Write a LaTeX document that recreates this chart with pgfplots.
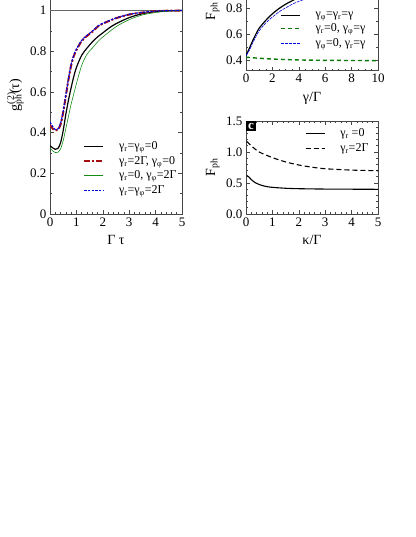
\documentclass[border=0pt]{standalone}
\usepackage{fontspec}
\setmainfont{Liberation Serif}
\usepackage{pgfplots}
\pgfplotsset{compat=1.18}
\definecolor{dred}{RGB}{165,15,15}
\definecolor{dgreen}{RGB}{20,140,20}
\definecolor{mgreen}{RGB}{10,120,10}
\definecolor{dblue}{RGB}{0,0,225}
\definecolor{axgray}{RGB}{70,70,70}
\pgfplotsset{panel/.style={scale only axis, anchor=south west,
  axis line style={axgray,line width=0.8pt}, tick style={axgray,line width=0.6pt},
  tick align=inside, major tick length=4pt, minor tick length=2pt,
  tick label style={font=\fontsize{13}{15}\selectfont},
  /pgf/number format/assume math mode=true,
  label style={font=\fontsize{14}{16}\selectfont},
  xlabel style={yshift=-2pt},
  legend cell align=left,
  legend style={draw=none, fill=none, font=\fontsize{12}{13}\selectfont, row sep=1pt,
    /tikz/every odd column/.append style={column sep=13pt}},
  legend image code/.code={\draw[##1] (0pt,0pt) -- (19pt,0pt);}}}

\begin{document}
\begin{tikzpicture}
% left: g2
\begin{axis}[panel, at={(50pt,323pt)}, width=132pt, height=238.1pt,
  xmin=0, xmax=5, ymin=0, ymax=1.17,
  xtick={0,1,2,3,4,5}, ytick={0,0.2,0.4,0.6,0.8,1},
  minor x tick num=4, minor y tick num=1,
  xlabel={Γ τ}, ylabel={g\rlap{\textsuperscript{(2)}}\textsubscript{ph}(τ)},
  legend style={at={(0.227,0.32)}, anchor=north west}]
\addplot[black!60, line width=0.5pt, forget plot] coordinates {(0,1) (5,1)};
\addplot[black, line width=1.2pt, smooth] coordinates {(0,0.336) (0.1,0.325) (0.2,0.318) (0.3,0.322) (0.4,0.35) (0.5,0.41) (0.6,0.49) (0.7,0.56) (0.8,0.62) (0.9,0.675) (1.0,0.72) (1.2,0.78) (1.4,0.815) (1.6,0.845) (1.8,0.87) (2.0,0.89) (2.25,0.915) (2.5,0.935) (3,0.965) (3.5,0.984) (4,0.994) (4.5,0.998) (5,1.0)};
\addlegendentry{γ\textsubscript{r}=γ\textsubscript{φ}=0}
\addplot[dred, line width=2pt, smooth, dash pattern=on 6pt off 2pt on 2pt off 2pt] coordinates {(0,0.437) (0.1,0.42) (0.2,0.41) (0.3,0.415) (0.4,0.44) (0.5,0.5) (0.6,0.58) (0.7,0.66) (0.8,0.73) (0.9,0.775) (1.0,0.805) (1.2,0.85) (1.4,0.875) (1.6,0.895) (1.8,0.92) (2.0,0.935) (2.5,0.962) (3,0.98) (3.5,0.99) (4,0.997) (4.5,0.999) (5,1.0)};
\addlegendentry{γ\textsubscript{r}=2Γ, γ\textsubscript{φ}=0}
\addplot[dgreen, line width=0.6pt, smooth] coordinates {(0,0.323) (0.1,0.31) (0.2,0.302) (0.3,0.303) (0.4,0.32) (0.5,0.36) (0.6,0.42) (0.7,0.48) (0.8,0.54) (0.9,0.59) (1.0,0.64) (1.2,0.73) (1.4,0.785) (1.6,0.815) (1.8,0.845) (2.0,0.87) (2.5,0.92) (3,0.955) (3.5,0.978) (4,0.99) (4.5,0.997) (5,1.0)};
\addlegendentry{γ\textsubscript{r}=0, γ\textsubscript{φ}=2Γ}
\addplot[dblue, line width=1.1pt, smooth, dash pattern=on 2.5pt off 1.2pt] coordinates {(0,0.453) (0.1,0.43) (0.2,0.415) (0.3,0.418) (0.4,0.445) (0.5,0.505) (0.6,0.585) (0.7,0.665) (0.8,0.735) (0.9,0.78) (1.0,0.81) (1.2,0.853) (1.4,0.878) (1.6,0.898) (1.8,0.922) (2.0,0.937) (2.5,0.963) (3,0.981) (3.5,0.991) (4,0.997) (4.5,0.999) (5,1.0)};
\addlegendentry{γ\textsubscript{r}=γ\textsubscript{φ}=2Γ}
\end{axis}
% top right: F vs gamma
\begin{axis}[panel, at={(246pt,466.3pt)}, width=132pt, height=95.5pt,
  xmin=0, xmax=10, ymin=0.32, ymax=1.05,
  xtick={0,2,4,6,8,10}, ytick={0.4,0.6,0.8},
  minor x tick num=3, minor y tick num=1,
  yticklabel style={/pgf/number format/fixed, /pgf/number format/fixed zerofill, /pgf/number format/precision=1},
  xlabel={γ/Γ}, ylabel={F\textsubscript{ph}},
  ylabel style={at={(ticklabel cs:0.62)}},
  legend style={at={(0.235,0.66)}, anchor=north west}]
\addplot[black, line width=1.2pt, smooth] coordinates {(0,0.435) (0.25,0.49) (0.5,0.548) (0.75,0.6) (1,0.645) (1.5,0.705) (2,0.755) (2.5,0.795) (3,0.828) (3.5,0.855) (4,0.878) (5,0.91) (6,0.935) (7,0.952) (8,0.965) (10,0.98)};
\addlegendentry{γ\textsubscript{φ}=γ\textsubscript{r}=γ}
\addplot[mgreen, line width=1.4pt, smooth, dash pattern=on 4pt off 3pt] coordinates {(0,0.423) (1,0.415) (2,0.409) (3,0.405) (4,0.402) (6,0.399) (8,0.398) (10,0.397)};
\addlegendentry{γ\textsubscript{r}=0, γ\textsubscript{φ}=γ}
\addplot[dblue, line width=0.6pt, smooth, dash pattern=on 3pt off 1pt] coordinates {(0,0.435) (0.25,0.475) (0.5,0.53) (0.75,0.58) (1,0.625) (1.5,0.685) (2,0.73) (2.5,0.77) (3,0.8) (3.5,0.828) (4,0.85) (5,0.885) (6,0.91) (8,0.945) (10,0.965)};
\addlegendentry{γ\textsubscript{φ}=0, γ\textsubscript{r}=γ}
\end{axis}
% bottom right: F vs kappa
\begin{axis}[panel, at={(246pt,323pt)}, width=132pt, height=93pt,
  xmin=0, xmax=5, ymin=0, ymax=1.5,
  xtick={0,1,2,3,4,5}, ytick={0,0.5,1.0,1.5},
  minor x tick num=4, minor y tick num=4,
  yticklabel style={/pgf/number format/fixed, /pgf/number format/fixed zerofill, /pgf/number format/precision=1},
  xlabel={κ/Γ}, ylabel={F\textsubscript{ph}},
  legend style={at={(0.424,0.96)}, anchor=north west}]
\addplot[black, line width=1.1pt, smooth] coordinates {(0.03,0.62) (0.1,0.6) (0.2,0.555) (0.35,0.505) (0.5,0.475) (0.75,0.445) (1,0.43) (1.5,0.415) (2,0.408) (3,0.402) (4,0.4) (5,0.398)};
\addlegendentry{γ\textsubscript{r} =0}
\addplot[black, line width=1.1pt, smooth, dash pattern=on 5pt off 3pt] coordinates {(0.03,1.17) (0.2,1.1) (0.5,1.0) (1,0.91) (1.5,0.84) (2,0.79) (2.5,0.755) (3,0.73) (4,0.708) (5,0.698)};
\addlegendentry{γ\textsubscript{r}=2Γ}
\node[fill=black, text=white, font=\bfseries\fontsize{13}{14}\selectfont, anchor=north west, inner sep=2pt] at (rel axis cs:0,1) {c};
\end{axis}
\pgfresetboundingbox
\useasboundingbox (0,0) rectangle (415pt,537pt);
\end{tikzpicture}
\end{document}
